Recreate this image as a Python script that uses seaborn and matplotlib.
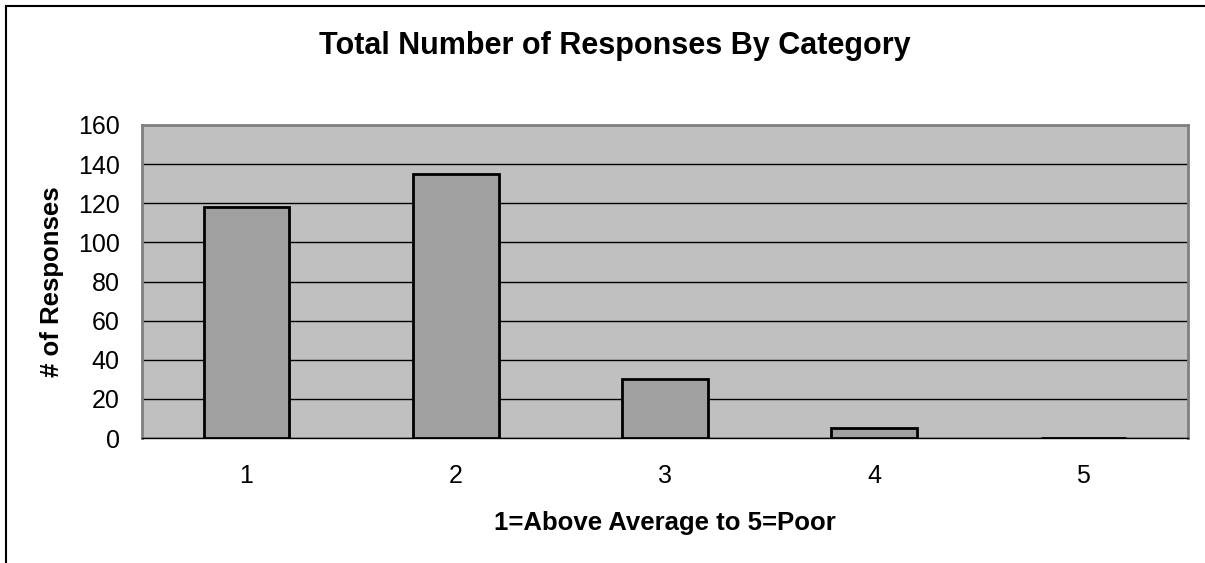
import matplotlib
matplotlib.use("Agg")
import matplotlib.pyplot as plt
import seaborn as sns
import pandas as pd
import numpy as np

categories = ["1", "2", "3", "4", "5"]
responses = [118, 135, 30, 5, 0]
y_ticks = [0, 20, 40, 60, 80, 100, 120, 140, 160]

sns.set_style("white")
plt.rcParams["font.family"] = ["Liberation Sans", "DejaVu Sans"]
plt.rcParams["text.color"] = "black"
plt.rcParams["axes.labelcolor"] = "black"
plt.rcParams["xtick.color"] = "black"
plt.rcParams["ytick.color"] = "black"

df = pd.DataFrame({"category": categories, "responses": responses})

fig = plt.figure(figsize=(12.05, 5.63), dpi=100)
ax = fig.add_axes([0.1178, 0.222, 0.8681, 0.556])
ax.set_facecolor("#C0C0C0")

sns.barplot(data=df, x="category", y="responses", ax=ax, color="#A0A0A0",
            saturation=1, width=0.41, edgecolor="black", linewidth=2, zorder=3)

ax.set_ylim(0, 160)
ax.set_xlim(-0.5, len(categories) - 0.5)
ax.set_yticks(y_ticks)
ax.yaxis.grid(True, color="black", linewidth=1, zorder=0)
ax.set_axisbelow(True)

# category labels centred, tick marks on the category boundaries
ax.set_xticks(range(len(categories)))
ax.set_xticklabels(categories)
ax.set_xticks(np.arange(-0.5, len(categories), 1.0), minor=True)
ax.tick_params(axis="x", which="major", length=0, pad=19, labelsize=18)
ax.tick_params(axis="x", which="minor", length=7, width=1, color="black", direction="out")
ax.tick_params(axis="y", length=7, width=1, color="black", direction="out", labelsize=18, pad=9)

for side, sp in ax.spines.items():
    sp.set_visible(True)
    sp.set_color("#808080")
    sp.set_linewidth(2)
ax.spines["bottom"].set_color("black")
ax.spines["bottom"].set_linewidth(1)

ax.set_xlabel("1=Above Average to 5=Poor", fontsize=18.5, fontweight="bold", labelpad=16)
ax.set_ylabel("# of Responses", fontsize=18.5, fontweight="bold", labelpad=10)
fig.text(0.51, 0.918, "Total Number of Responses By Category", ha="center", va="center",
         fontsize=22, fontweight="bold")

# outer chart frame
fig.add_artist(plt.Rectangle((0.005, -0.01), 1.2, 1.0, transform=fig.transFigure,
                             fill=False, edgecolor="black", linewidth=1.5))

fig.savefig("out.png", dpi=100)
